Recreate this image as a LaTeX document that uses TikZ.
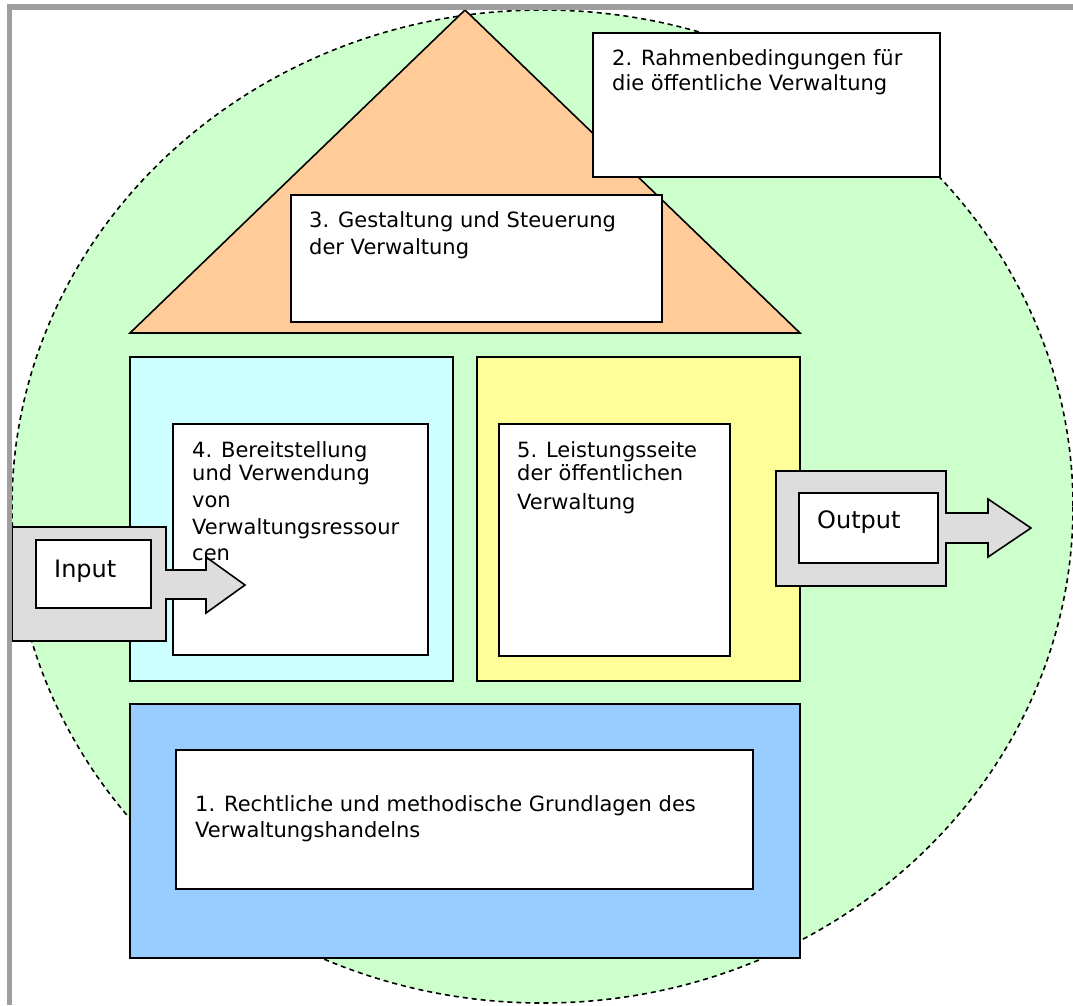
\documentclass[tikz,border=0pt]{standalone}
\usepackage{fontspec}
\setmainfont{DejaVu Sans}

\definecolor{umfeld}{HTML}{CCFFCC}
\definecolor{dach}{HTML}{FFCC99}
\definecolor{ressourcen}{HTML}{CCFFFF}
\definecolor{leistung}{HTML}{FFFF99}
\definecolor{grundlagen}{HTML}{99CCFF}
\definecolor{pfeil}{HTML}{DDDDDD}
\definecolor{rand}{HTML}{9E9E9E}

\begin{document}
\begin{tikzpicture}[x=1pt,y=-1pt]

\tikzstyle{blk}=[draw=black,line width=1.6pt,join=miter]
\tikzstyle{wbox}=[blk,fill=white]
% base = Grundlinie der letzten Zeile
\tikzstyle{txt}=[anchor=base west,inner sep=0pt,align=left,font=\fontsize{21}{23}\selectfont]
\tikzstyle{io}=[anchor=base west,inner sep=0pt,font=\fontsize{24}{28}\selectfont]

\useasboundingbox (0,0) rectangle (1073,1005);

% Umfeld
\node[shape=coordinate] (mitte) at (542.5,506.5){};
\fill[umfeld] (mitte) ellipse [x radius=530.5, y radius=496.5];
\draw[line width=1.6pt,dash pattern=on 5pt off 4pt] (mitte) ellipse [x radius=530.5, y radius=496.5];

% Dach
\node[shape=coordinate] (spitze) at (465,10){};
\node[shape=coordinate] (dl) at (130,333){};
\node[shape=coordinate] (dr) at (800,333){};
\draw[blk,fill=dach] (spitze)--(dr)--(dl)--cycle;

% Kaesten
\draw[wbox] (593,33) rectangle (940,177);
\draw[wbox] (291,195) rectangle (662,322);
\draw[blk,fill=ressourcen] (130,357) rectangle (453,681);
\draw[wbox] (173,424) rectangle (428,655);
\draw[blk,fill=leistung] (477,357) rectangle (800,681);
\draw[wbox] (499,424) rectangle (730,656);
\draw[blk,fill=grundlagen] (130,704) rectangle (800,958);
\draw[wbox] (176,750) rectangle (753,889);

% Input / Output
\draw[blk,fill=pfeil] (12,527)--(166,527)--(166,570)--(206,570)--(206,557)--(245,585)
  --(206,613)--(206,599)--(166,599)--(166,641)--(12,641)--cycle;
\draw[wbox] (36,540) rectangle (151,608);
\draw[blk,fill=pfeil] (776,471)--(946,471)--(946,513)--(988,513)--(988,499)--(1031,528)
  --(988,557)--(988,543)--(946,543)--(946,586)--(776,586)--cycle;
\draw[wbox] (799,493) rectangle (938,563);

% Texte
\node[txt] (t2) at (612,90) {2. Rahmenbedingungen für\\[2pt]die öffentliche Verwaltung};
\node[txt] (t3) at (309,254) {3. Gestaltung und Steuerung\\[4pt]der Verwaltung};
\node[txt] (t4) at (192,560) {4. Bereitstellung\\und Verwendung\\[4pt]von\\[4pt]Verwaltungsressour\\[3pt]cen};
\node[txt] (t5) at (517,509) {5. Leistungsseite\\der öffentlichen\\[6pt]Verwaltung};
\node[txt] (t1) at (195,837) {1. Rechtliche und methodische Grundlagen des\\[3pt]Verwaltungshandelns};
\node[io] (tin) at (54,577) {Input};
\node[io] (tout) at (817,528) {Output};

% Rand
\draw[rand,line width=5.5pt] (9.5,1005)--(9.5,7)--(1073,7);

\end{tikzpicture}
\end{document}
